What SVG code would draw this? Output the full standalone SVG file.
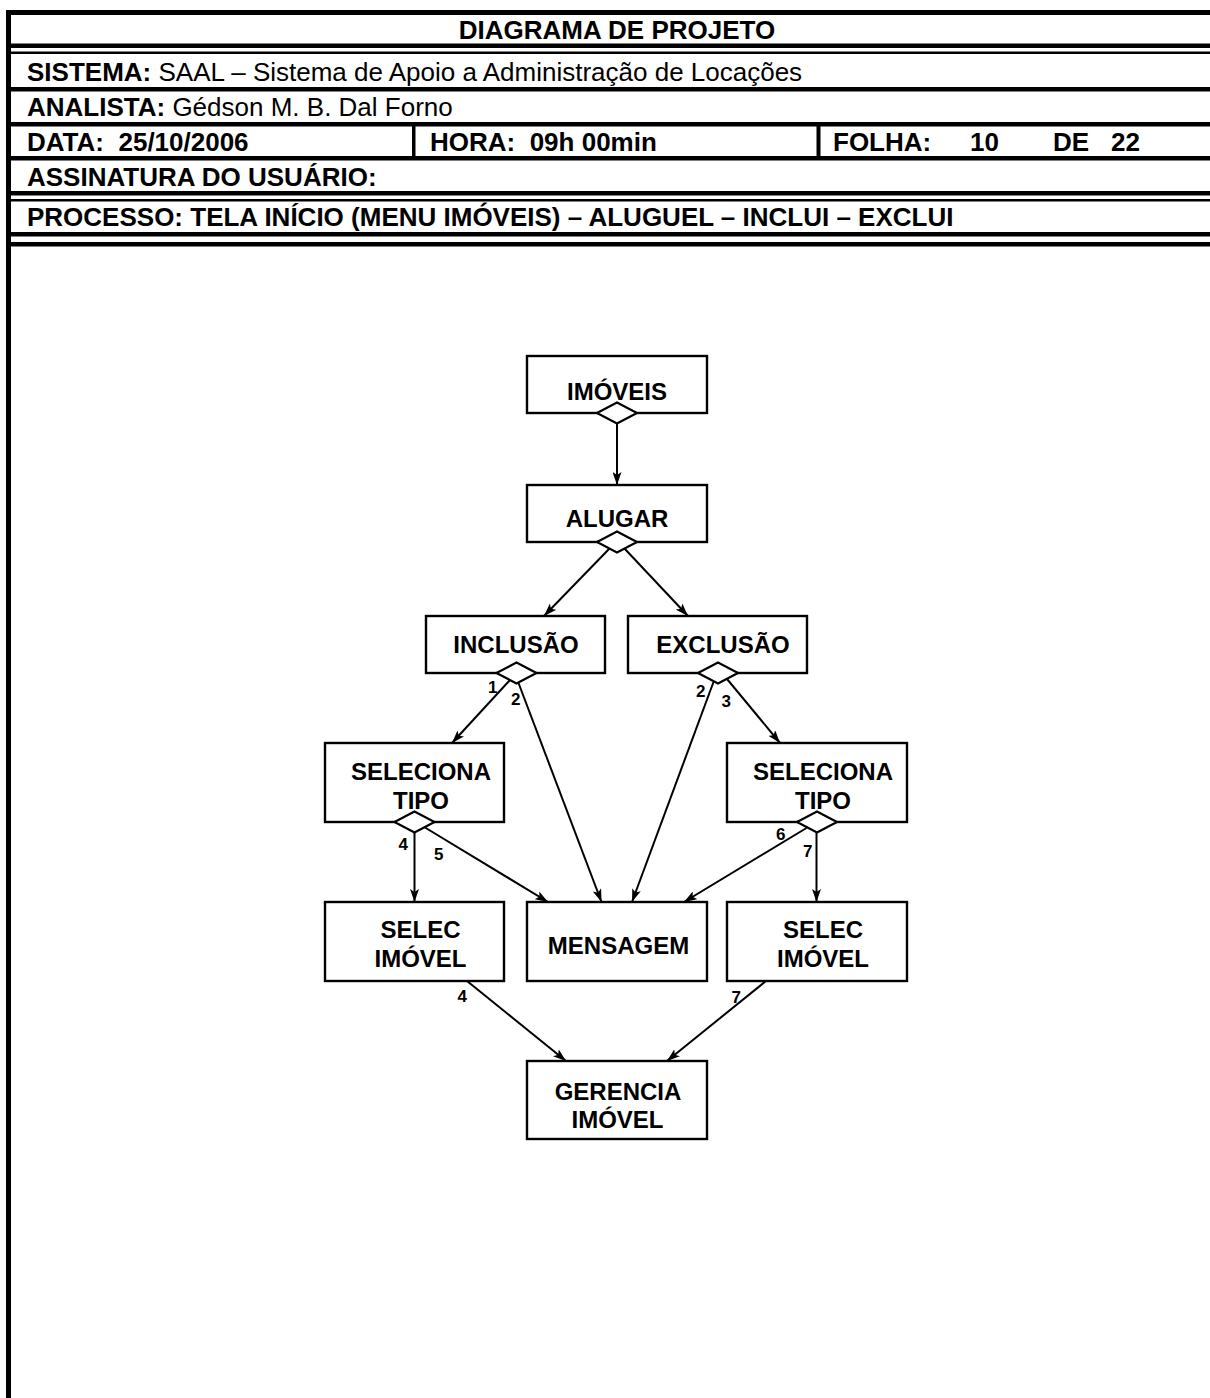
<svg xmlns="http://www.w3.org/2000/svg" width="1210" height="1398" viewBox="0 0 1210 1398">
<style>
.hb{font-family:"Liberation Sans",Arial,sans-serif;font-size:26px;font-weight:bold;fill:#000}
.hr{font-family:"Liberation Sans",Arial,sans-serif;font-size:26px;font-weight:normal;fill:#000}
.rule{fill:#000}
.box{fill:#fff;stroke:#000;stroke-width:2.4}
.dia{fill:#fff;stroke:#000;stroke-width:2.2}
.nt{font-family:"Liberation Sans",Arial,sans-serif;font-size:24px;font-weight:bold;fill:#000;text-anchor:middle}
.lb{font-family:"Liberation Sans",Arial,sans-serif;font-size:17px;font-weight:bold;fill:#000}
.cn{fill:none;stroke:#000;stroke-width:2;marker-end:url(#ah)}
</style>
<defs>
<marker id="ah" viewBox="0 0 13 9" refX="13" refY="4.5" markerWidth="13" markerHeight="9" markerUnits="userSpaceOnUse" orient="auto">
<path d="M0,0 L13,4.5 L0,9 L3,4.5 z" fill="#000"/>
</marker>
</defs>
<rect width="1210" height="1398" fill="#fff"/>
<g id="header">
<rect class="rule" x="6" y="10" width="1204" height="5"/>
<rect class="rule" x="6" y="10" width="5" height="1388"/>
<rect class="rule" x="6" y="43.5" width="1204" height="4.5"/>
<rect class="rule" x="6" y="51.5" width="1204" height="2.5"/>
<rect class="rule" x="6" y="87" width="1204" height="4.5"/>
<rect class="rule" x="6" y="122" width="1204" height="4.5"/>
<rect class="rule" x="6" y="156" width="1204" height="4.5"/>
<rect class="rule" x="6" y="191" width="1204" height="4.5"/>
<rect class="rule" x="6" y="199" width="1204" height="2.5"/>
<rect class="rule" x="6" y="232" width="1204" height="4.5"/>
<rect class="rule" x="6" y="242" width="1204" height="4.5"/>
<rect class="rule" x="412" y="124" width="3.5" height="34"/>
<rect class="rule" x="816.5" y="124" width="4" height="34"/>
<text class="hb" x="617" y="38.5" text-anchor="middle">DIAGRAMA DE PROJETO</text>
<text x="27" y="81"><tspan class="hb">SISTEMA:</tspan><tspan class="hr"> SAAL – Sistema de Apoio a Administração de Locações</tspan></text>
<text x="27" y="116"><tspan class="hb">ANALISTA:</tspan><tspan class="hr"> Gédson M. B. Dal Forno</tspan></text>
<text class="hb" x="27" y="151" xml:space="preserve">DATA:  25/10/2006</text>
<text class="hb" x="430" y="151" xml:space="preserve">HORA:  09h 00min</text>
<text class="hb" x="833" y="151">FOLHA:</text>
<text class="hb" x="970" y="151">10</text>
<text class="hb" x="1053" y="151">DE</text>
<text class="hb" x="1111" y="151">22</text>
<text class="hb" x="27" y="186">ASSINATURA DO USUÁRIO:</text>
<text class="hb" x="27" y="226">PROCESSO: TELA INÍCIO (MENU IMÓVEIS) – ALUGUEL – INCLUI – EXCLUI</text>
</g>
<g id="connectors">
<line class="cn" x1="617" y1="424" x2="617" y2="485"/>
<line class="cn" x1="610" y1="548" x2="544" y2="616"/>
<line class="cn" x1="624" y1="548" x2="688" y2="616"/>
<line class="cn" x1="510" y1="680" x2="452" y2="743"/>
<line class="cn" x1="518.5" y1="683" x2="601.5" y2="902"/>
<line class="cn" x1="713.5" y1="682" x2="632" y2="902"/>
<line class="cn" x1="727" y1="679" x2="780" y2="743"/>
<line class="cn" x1="414.5" y1="833" x2="414.5" y2="902"/>
<line class="cn" x1="425" y1="827.5" x2="548" y2="902"/>
<line class="cn" x1="806.5" y1="828" x2="684" y2="902"/>
<line class="cn" x1="816.5" y1="833" x2="816.5" y2="902"/>
<line class="cn" x1="467" y1="981" x2="566" y2="1061"/>
<line class="cn" x1="766" y1="981" x2="667" y2="1061"/>
<text class="lb" x="488" y="693">1</text>
<text class="lb" x="511" y="705">2</text>
<text class="lb" x="696" y="696.5">2</text>
<text class="lb" x="721.5" y="706.5">3</text>
<text class="lb" x="398.5" y="850">4</text>
<text class="lb" x="434" y="860">5</text>
<text class="lb" x="776" y="840">6</text>
<text class="lb" x="803" y="856.5">7</text>
<text class="lb" x="457.5" y="1001.5">4</text>
<text class="lb" x="731.5" y="1003">7</text>
</g>
<g id="n-imoveis">
<rect class="box" x="527" y="356" width="180" height="57"/>
<text class="nt" x="617" y="400">IMÓVEIS</text>
<polygon class="dia" points="597,413 617,402.5 637,413 617,423.5"/>
</g>
<g id="n-alugar">
<rect class="box" x="527" y="485" width="180" height="57"/>
<text class="nt" x="617" y="527">ALUGAR</text>
<polygon class="dia" points="597,542 617,531.5 637,542 617,552.5"/>
</g>
<g id="n-inclusao">
<rect class="box" x="426" y="616" width="179" height="57"/>
<text class="nt" x="516" y="653">INCLUSÃO</text>
<polygon class="dia" points="496.5,673 516.5,662.5 536.5,673 516.5,683.5"/>
</g>
<g id="n-exclusao">
<rect class="box" x="628" y="616" width="179" height="57"/>
<text class="nt" x="723" y="653">EXCLUSÃO</text>
<polygon class="dia" points="698,673 718,662.5 738,673 718,683.5"/>
</g>
<g id="n-seleciona-tipo-1">
<rect class="box" x="325" y="743" width="179" height="79"/>
<text class="nt" x="421" y="780">SELECIONA</text>
<text class="nt" x="421" y="809">TIPO</text>
<polygon class="dia" points="394.5,822 414.5,811.5 434.5,822 414.5,832.5"/>
</g>
<g id="n-seleciona-tipo-2">
<rect class="box" x="727" y="743" width="180" height="79"/>
<text class="nt" x="823" y="780">SELECIONA</text>
<text class="nt" x="823" y="809">TIPO</text>
<polygon class="dia" points="797,822 817,811.5 837,822 817,832.5"/>
</g>
<g id="n-selec-imovel-1">
<rect class="box" x="325" y="902" width="179" height="79"/>
<text class="nt" x="420.5" y="938">SELEC</text>
<text class="nt" x="420.5" y="967">IMÓVEL</text>
</g>
<g id="n-mensagem">
<rect class="box" x="527" y="902" width="180" height="79"/>
<text class="nt" x="618.5" y="954">MENSAGEM</text>
</g>
<g id="n-selec-imovel-2">
<rect class="box" x="727" y="902" width="180" height="79"/>
<text class="nt" x="823" y="938">SELEC</text>
<text class="nt" x="823" y="967">IMÓVEL</text>
</g>
<g id="n-gerencia-imovel">
<rect class="box" x="527" y="1061" width="180" height="78"/>
<text class="nt" x="618" y="1100">GERENCIA</text>
<text class="nt" x="617.5" y="1128">IMÓVEL</text>
</g>
</svg>
